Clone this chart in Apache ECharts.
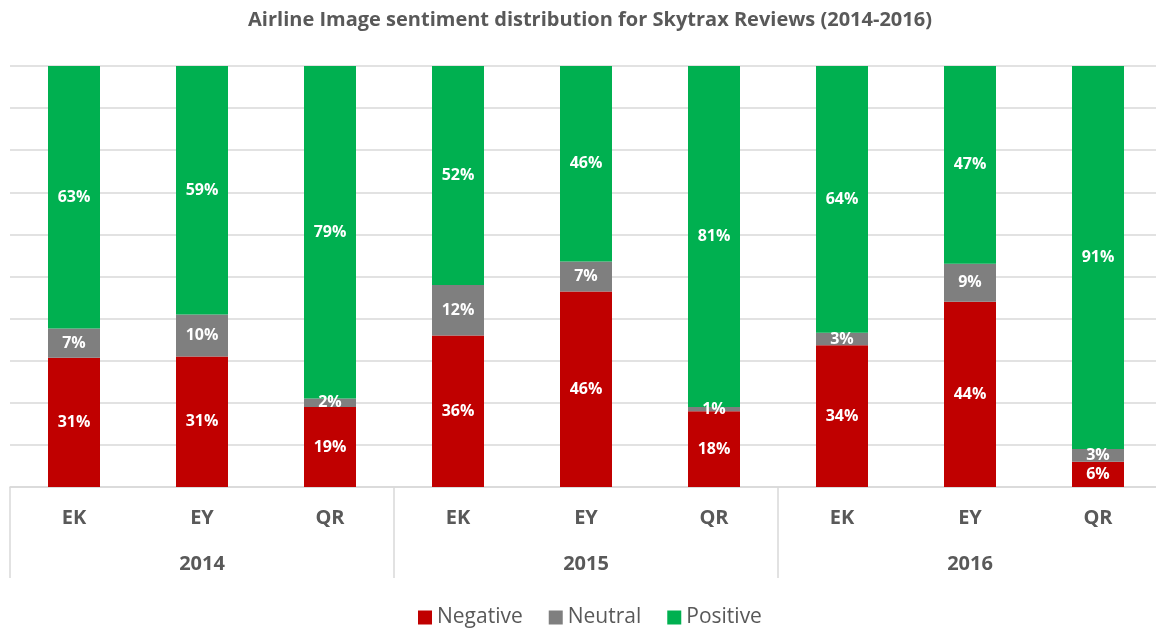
<!DOCTYPE html>
<html><head><meta charset="utf-8">
<script src="https://cdn.jsdelivr.net/npm/echarts@6/dist/echarts.min.js"></script>
<style>html,body{margin:0;padding:0;background:#fff}#c{width:1156px;height:628px}</style>
</head><body><div id="c"></div>
<script>
const airlines = ['EK','EY','QR','EK','EY','QR','EK','EY','QR'];
const years = ['2014','2015','2016'];
const negative = [31,31,19,36,46,18,34,44,6];
const neutral  = [7,10,2,12,7,1,3,9,3];
const positive = [63,59,79,52,46,81,64,47,91];

const totals = negative.map((v,i)=>v+neutral[i]+positive[i]);
const norm = arr => arr.map((v,i)=>({value: v*100/totals[i], label0: v}));

const FONT = '"Open Sans", "Noto Sans", sans-serif';
const labelCfg = {show:true, position:'inside', color:'#fff', fontWeight:'bold', fontSize:16, fontFamily:FONT,
  formatter: p => p.data.label0 + '%'};

const chart = echarts.init(document.getElementById('c'));
chart.setOption({
  animation:false,
  title:{text:'Airline Image sentiment distribution for Skytrax Reviews (2014-2016)', left:585, top:5, textAlign:'center',
    textStyle:{fontFamily:FONT, fontSize:20, fontWeight:'bold', color:'#595959'}},
  legend:{top:602, left:413, itemWidth:14, itemHeight:14, itemGap:26, icon:'rect',
    textStyle:{fontFamily:FONT, fontSize:21, color:'#595959'},
    data:['Negative','Neutral','Positive']},
  grid:{left:10, width:1152, top:66, height:421, outerBoundsMode:'none', containLabel:false},
  xAxis:[
    {type:'category', data:airlines, axisLine:{lineStyle:{color:'#d9d9d9', width:1.5}}, axisTick:{show:false},
     axisLabel:{margin:21, fontFamily:FONT, fontSize:20, fontWeight:'bold', color:'#595959'}},
    {type:'category', data:years, position:'bottom', axisLine:{show:false},
     axisTick:{show:true, length:91, lineStyle:{color:'#d9d9d9', width:1.5}},
     axisLabel:{margin:67, fontFamily:FONT, fontSize:20, fontWeight:'bold', color:'#595959'}}
  ],
  yAxis:{type:'value', min:0, max:100, interval:10, axisLabel:{show:false}, axisLine:{show:false}, axisTick:{show:false},
    splitLine:{lineStyle:{color:'#d9d9d9', width:1.5}}},
  series:[
    {name:'Negative', type:'bar', stack:'s', barWidth:52, data:norm(negative), itemStyle:{color:'#C00000'}, label:labelCfg},
    {name:'Neutral', type:'bar', stack:'s', barWidth:52, data:norm(neutral), itemStyle:{color:'#7F7F7F'}, label:labelCfg},
    {name:'Positive', type:'bar', stack:'s', barWidth:52, data:norm(positive), itemStyle:{color:'#00B050'}, label:labelCfg}
  ]
});
</script></body></html>
